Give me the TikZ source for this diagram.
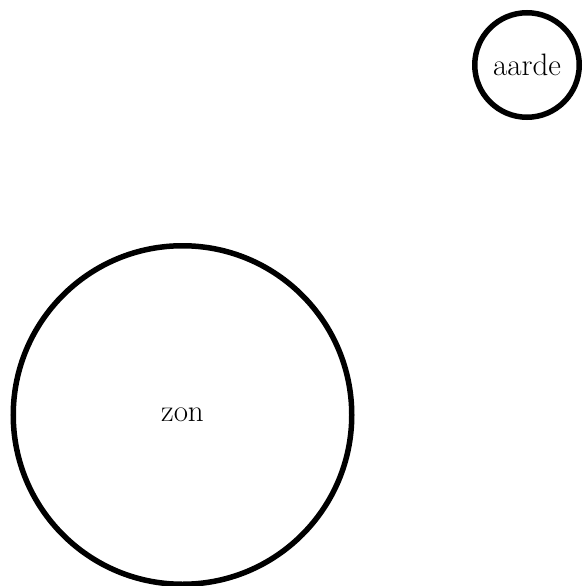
\documentclass[tikz,border=0pt]{standalone}
\begin{document}
\begin{tikzpicture}[x=1pt,y=-1pt,
  body/.style={draw=black,line width=5.5pt,circle,inner sep=0pt,font=\fontsize{31}{37}\selectfont}]
\useasboundingbox (0,0) rectangle (582,586);
\node[body,minimum size=338.5pt] (zon) at (182.5,415) {zon};
\node[body,minimum size=104.5pt] (aarde) at (527,65) {aarde};
\end{tikzpicture}
\end{document}
